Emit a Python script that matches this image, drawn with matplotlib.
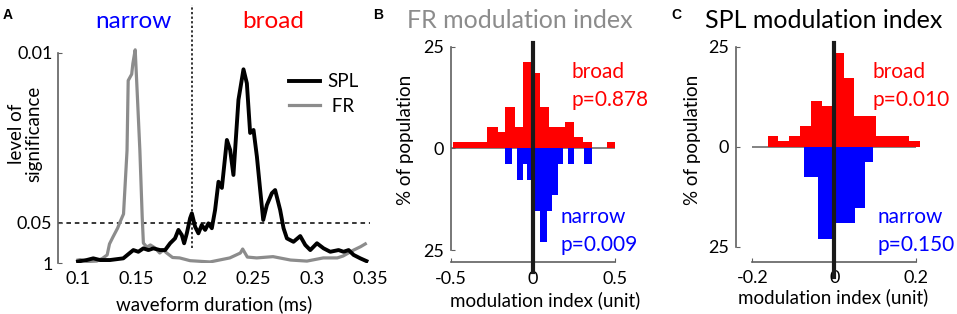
import matplotlib
matplotlib.use('Agg')
import matplotlib.pyplot as plt
import numpy as np

plt.rcParams['font.family'] = ['Lato', 'DejaVu Sans']
plt.rc('xtick', labelsize=13)
plt.rc('ytick', labelsize=13)
plt.rc('axes', labelsize=13.5)

SPINE = '#606060'
BLUE = '#0000ff'
RED = '#ff0000'

# --- panel A: significance vs waveform duration (y plotted as 1/p) ---
spl_x = [0.100, 0.1075, 0.1131, 0.1189, 0.1274, 0.1388, 0.1474, 0.1517, 0.1560, 0.1603,
         0.1645, 0.1703, 0.1746, 0.1789, 0.1831, 0.1860, 0.1889, 0.1909, 0.1932, 0.1960,
         0.1975, 0.2003, 0.2031, 0.2060, 0.2089, 0.2117, 0.2146, 0.2174, 0.2203, 0.2232,
         0.2275, 0.2303, 0.2331, 0.2374, 0.2417, 0.2446, 0.2474, 0.2503, 0.2532, 0.2560,
         0.2586, 0.2617, 0.2660, 0.2688, 0.2731, 0.2760, 0.2789, 0.2845, 0.2903, 0.2946,
         0.2989, 0.3046, 0.3103, 0.3160, 0.3231, 0.3274, 0.3317, 0.3360, 0.3417, 0.347]
spl_inv_p = [1.7, 2.4, 3.2, 2.4, 2.4, 3.2, 7.1, 6.3, 7.9, 7.1,
             7.9, 7.1, 7.1, 10.3, 12.6, 16.6, 14.2, 10.3, 15.0, 22.1,
             24.4, 18.1, 15.0, 18.9, 16.6, 19.7, 17.4, 26.0, 39.3, 36.4,
             59.0, 54.3, 42.5, 77.9, 92.3, 85.7, 62.3, 63.7, 51.1, 35.4,
             21.3, 28.3, 33.9, 35.4, 26.0, 17.4, 12.6, 11.0, 13.7, 9.5,
             7.1, 10.3, 7.9, 6.3, 7.1, 6.3, 7.1, 4.8, 3.2, 1.9]

fr_x = [0.100, 0.102, 0.108, 0.116, 0.121, 0.125, 0.127, 0.130, 0.134, 0.136,
        0.139, 0.142, 0.143, 0.146, 0.147, 0.149, 0.151, 0.153, 0.155, 0.156,
        0.159, 0.162, 0.166, 0.170, 0.173, 0.176, 0.181, 0.187, 0.196, 0.213,
        0.230, 0.239, 0.241, 0.245, 0.253, 0.267, 0.282, 0.296, 0.310, 0.322,
        0.327, 0.336, 0.342, 0.346]
fr_inv_p = [2.4, 2.6, 1.7, 1.9, 3.2, 4.8, 10.0, 13.3, 17.5, 20.3,
            24.1, 54.0, 87.0, 90.0, 95.0, 101.5, 78.0, 54.0, 22.7, 10.4,
            8.5, 9.5, 8.1, 5.7, 7.1, 5.7, 3.6, 3.4, 2.1, 1.5,
            3.4, 5.7, 7.6, 3.8, 3.4, 4.0, 2.4, 1.9, 3.4, 3.4,
            4.3, 7.1, 8.7, 10.0]

sig_ticks = [1, 20, 100]
sig_labels = ['1', '0.05', '0.01']
dur_ticks = [0.1, 0.15, 0.2, 0.25, 0.3, 0.35]
dur_labels = ['0.1', '0.15', '0.2', '0.25', '0.3', '0.35']
split_dur = 0.198

# --- panel B: FR modulation index histograms (% of population) ---
fr_broad_edges = [-0.486, -0.279, -0.211, -0.171, -0.110, -0.063, -0.008, 0.043, 0.098,
                  0.195, 0.250, 0.307, 0.358, 0.449, 0.500]
fr_broad_pct = [1.5, 5.2, 3.9, 10.1, 5.2, 21.1, 18.6, 10.1, 5.2, 6.4, 2.7, 1.5, 0, 1.5]
fr_narrow_edges = [-0.171, -0.130, -0.100, -0.059, -0.035, -0.008, 0.043, 0.083, 0.114,
                   0.150, 0.185, 0.211, 0.252, 0.313, 0.358]
fr_narrow_pct = [3.85, 0, 7.7, 3.85, 7.7, 15.4, 23.1, 15.4, 11.5, 3.85, 0, 3.85, 0, 3.85]

# --- panel C: SPL modulation index histograms ---
spl_broad_edges = [-0.163, -0.1365, -0.110, -0.0835, -0.057, -0.0305, -0.004, 0.0225,
                   0.049, 0.0755, 0.102, 0.1285, 0.155, 0.1815, 0.208]
spl_broad_pct = [2.75, 1.5, 2.75, 5.2, 11.4, 10.2, 23.5, 17.3, 7.7, 7.7, 2.75, 2.75, 2.75, 1.5]
spl_narrow_edges = [-0.074, -0.041, -0.004, 0.050, 0.075, 0.095]
spl_narrow_pct = [7.7, 23.1, 19.2, 15.4, 3.85]

fig = plt.figure(figsize=(9.57, 3.14), dpi=100)

# ---------------- A ----------------
axA = fig.add_axes([0.0606, 0.1624, 0.326, 0.8216])
axA.plot(fr_x, fr_inv_p, color='#8c8c8c', lw=2.3, label=' FR', solid_joinstyle='round')
axA.plot(spl_x, spl_inv_p, color='black', lw=2.8, label='SPL', solid_joinstyle='round')
axA.axhline(20, color='black', lw=1.1, ls=(0, (3, 2.5)), zorder=0)
axA.axvline(split_dur, ymin=0.058, ymax=1, color='black', lw=1.1, ls=(0, (1.5, 1.5)), zorder=0)
axA.set_xlim(0.0829, 0.35)
axA.set_ylim(1, 122.6)
axA.set_yticks(sig_ticks)
axA.set_yticklabels(sig_labels)
axA.set_xticks(dur_ticks)
axA.set_xticklabels(dur_labels)
for s in ['top', 'right', 'bottom']:
    axA.spines[s].set_visible(False)
axA.spines['left'].set_color(SPINE)
axA.spines['left'].set_linewidth(1.2)
axA.spines['left'].set_bounds(1, 100)
axA.tick_params(axis='y', direction='in', length=3, color=SPINE, pad=4)
axA.tick_params(axis='x', length=0, pad=6)
axA.set_xlabel('waveform duration (ms)')
axA.xaxis.set_label_coords(0.5, -0.125)
axA.set_ylabel('level of\nsignificance', linespacing=1.05)
axA.yaxis.set_label_coords(-0.05, 0.5)
h, l = axA.get_legend_handles_labels()
axA.legend(h[::-1], l[::-1], loc='upper left', bbox_to_anchor=(0.685, 0.80), frameon=False,
           fontsize=13.5, handlelength=1.7, handletextpad=0.35, labelspacing=0.4)
fig.text(0.139, 0.93, 'narrow', color=BLUE, fontsize=17.5, ha='center', va='center')
fig.text(0.2858, 0.93, 'broad', color=RED, fontsize=17.5, ha='center', va='center')


def hist_panel(ax, b_edges, b_pct, n_edges, n_pct, xl, xb, xt, xtl, line_lo):
    ax.hlines(0, xb[0], xb[1], color=SPINE, lw=1.1, zorder=1)
    ax.stairs(b_pct, b_edges, fill=True, color=RED, lw=0, zorder=2)
    ax.stairs(-np.array(n_pct), n_edges, fill=True, color=BLUE, lw=0, zorder=2)
    ax.axvline(0, ymin=line_lo, ymax=0.998, color='#1a1a1a', lw=3, clip_on=False, zorder=3)
    ax.set_xlim(*xl)
    ax.set_yticks([25, 0, -25])
    ax.set_yticklabels(['25', '0', '25'])
    ax.set_xticks(xt)
    ax.set_xticklabels(xtl)
    for s in ['top', 'right']:
        ax.spines[s].set_visible(False)
    for s in ['left', 'bottom']:
        ax.spines[s].set_color(SPINE)
        ax.spines[s].set_linewidth(1.2)
    ax.spines['left'].set_bounds(-25, 25)
    ax.spines['bottom'].set_bounds(*xb)
    ax.tick_params(direction='in', length=3, color=SPINE)
    ax.tick_params(axis='y', pad=5)
    ax.tick_params(axis='x', pad=6)
    ax.set_xlabel('modulation index (unit)')
    ax.set_ylabel('% of population')


# ---------------- B ----------------
axB = fig.add_axes([0.4713, 0.1646, 0.1714, 0.7001])
axB.set_ylim(-28, 26)
hist_panel(axB, fr_broad_edges, fr_broad_pct, fr_narrow_edges, fr_narrow_pct,
           (-0.5, 0.5), (-0.5, 0.5), [-0.5, 0, 0.5], ['-0.5', '0', '0.5'], -0.044)
axB.xaxis.set_label_coords(0.573, -0.13)
axB.yaxis.set_label_coords(-0.225, 0.556)
axB.text(0.232, 18.7, 'broad', color=RED, fontsize=15, va='center', clip_on=False)
axB.text(0.232, 11.9, 'p=0.878', color=RED, fontsize=15, va='center', clip_on=False)
axB.text(0.165, -16.9, 'narrow', color=BLUE, fontsize=15, va='center', clip_on=False)
axB.text(0.165, -23.8, 'p=0.009', color=BLUE, fontsize=15, va='center', clip_on=False)

# ---------------- C ----------------
axC = fig.add_axes([0.7691, 0.1666, 0.197, 0.6974])
axC.set_ylim(-28.75, 26)
hist_panel(axC, spl_broad_edges, spl_broad_pct, spl_narrow_edges, spl_narrow_pct,
           (-0.24, 0.22), (-0.2, 0.2), [-0.2, 0, 0.2], ['-0.2', '0', '0.2'], -0.07)
axC.xaxis.set_label_coords(0.515, -0.12)
axC.yaxis.set_label_coords(-0.185, 0.556)
axC.text(0.094, 18.7, 'broad', color=RED, fontsize=15, va='center', clip_on=False)
axC.text(0.094, 11.7, 'p=0.010', color=RED, fontsize=15, va='center', clip_on=False)
axC.text(0.106, -17.6, 'narrow', color=BLUE, fontsize=15, va='center', clip_on=False)
axC.text(0.106, -24.6, 'p=0.150', color=BLUE, fontsize=15, va='center', clip_on=False)

# titles and panel letters
fig.text(0.4253, 0.936, 'FR modulation index', color='#8c8c8c', fontsize=18, va='center')
fig.text(0.7367, 0.936, 'SPL modulation index', color='black', fontsize=18, va='center')
for x, s in [(0.003, 'A'), (0.3898, 'B'), (0.702, 'C')]:
    fig.text(x, 0.952, s, fontsize=10, fontweight='bold', va='center',
             family=['Liberation Sans', 'DejaVu Sans'])

fig.savefig('out.png', dpi=100)
